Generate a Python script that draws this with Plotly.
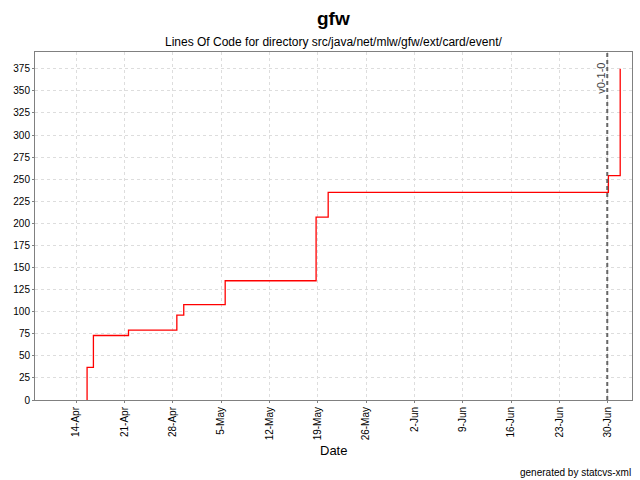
import plotly.graph_objects as go

dates = ["2003-04-15 14:00", "2003-04-15 14:00", "2003-04-16 12:00", "2003-04-21 14:00",
         "2003-04-28 14:00", "2003-04-29 14:00", "2003-05-05 14:00", "2003-05-18 18:00",
         "2003-05-20 12:00", "2003-06-30 02:00", "2003-07-01 19:00"]
loc = [0, 37, 73, 79, 96, 108, 135, 207, 235, 254, 375]

tick_dates = ["2003-04-14", "2003-04-21", "2003-04-28", "2003-05-05", "2003-05-12", "2003-05-19",
              "2003-05-26", "2003-06-02", "2003-06-09", "2003-06-16", "2003-06-23", "2003-06-30"]
tick_labels = ["14-Apr", "21-Apr", "28-Apr", "5-May", "12-May", "19-May",
               "26-May", "2-Jun", "9-Jun", "16-Jun", "23-Jun", "30-Jun"]
y_ticks = list(range(0, 376, 25))

version_name = "v0-1-0"
version_date = "2003-06-29 22:00"

font = "Liberation Sans, Arial, sans-serif"

L, R, T, B = 35, 8, 52, 80
plot_h = 480 - T - B
plot_w = 640 - L - R

fig = go.Figure()
fig.add_trace(go.Scatter(x=dates, y=loc, mode="lines", line=dict(color="#ff0000", width=1.3, shape="hv"),
                         showlegend=False, hoverinfo="skip"))

fig.add_shape(type="line", x0=version_date, x1=version_date, y0=0, y1=1, yref="paper",
              line=dict(color="#666666", width=2, dash="4px,3px"))

annotations = [
    dict(x=version_date, y=1, yref="paper", text=version_name, textangle=-90,
         showarrow=False, xanchor="right", yanchor="top", xshift=1, yshift=-9,
         font=dict(family=font, size=11, color="#444444")),
    dict(text="<b>gfw</b>", x=0.5, y=1 + (T - 19) / plot_h, xref="paper", yref="paper", showarrow=False,
         yanchor="middle", font=dict(size=19, family=font)),
    dict(text="Lines Of Code for directory src/java/net/mlw/gfw/ext/card/event/", x=0.5,
         y=1 + (T - 42) / plot_h, yanchor="middle",
         xref="paper", yref="paper", showarrow=False, font=dict(size=12, family=font)),
    dict(text="Date", x=0.5, y=-(450 - 400) / plot_h, yanchor="middle",
         xref="paper", yref="paper", showarrow=False, font=dict(size=13, family=font)),
    dict(text="generated by statcvs-xml", x=1 + 1 / plot_w, y=-(472 - 400) / plot_h, xanchor="right",
         yanchor="middle", xref="paper", yref="paper", showarrow=False,
         font=dict(size=10, family=font)),
]

fig.update_layout(
    width=640, height=480, autosize=False,
    margin=dict(l=L, r=R, t=T, b=B, pad=0),
    paper_bgcolor="white", plot_bgcolor="white",
    font=dict(family=font, size=10, color="black"),
    xaxis=dict(range=["2003-04-08 01:00", "2003-07-03 12:00"], tickvals=tick_dates, ticktext=tick_labels,
               tickangle=-90, showgrid=True, gridcolor="#dddddd", griddash="3px,3px", gridwidth=1,
               showline=True, linecolor="#808080", linewidth=1, mirror=True, ticks="outside",
               ticklen=2, tickcolor="#808080", zeroline=False, automargin=False,
               tickfont=dict(size=10)),
    yaxis=dict(range=[0, 394], tickvals=y_ticks, showgrid=True, gridcolor="#dddddd", griddash="3px,3px",
               showline=True, linecolor="#808080", linewidth=1, mirror=True, ticks="outside",
               ticklen=2, tickcolor="#808080", zeroline=False, automargin=False, tickfont=dict(size=10)),
    annotations=annotations,
)

fig.write_html("out.html", config={"displayModeBar": False},
               post_script="document.body.style.margin='0';document.body.style.padding='0';")
